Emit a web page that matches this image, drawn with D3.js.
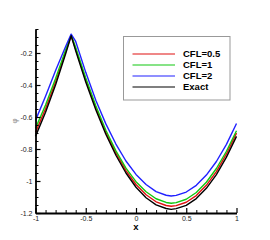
<!DOCTYPE html>
<html>
<head>
<meta charset="utf-8">
<script src="https://cdn.jsdelivr.net/npm/d3@7"></script>
<style>
html,body{margin:0;padding:0;background:#fff;}
svg{display:block;font-family:"Liberation Sans",Arial,sans-serif;}
</style>
</head>
<body>
<svg id="chart" width="270" height="240"></svg>
<script>
// ---- data ----
const xs     = [-1, -0.9, -0.8, -0.7, -0.645, -0.6, -0.5, -0.4, -0.3, -0.2, -0.1, 0, 0.1, 0.2, 0.3, 0.35, 0.4, 0.5, 0.6, 0.7, 0.8, 0.9, 1];
const cfl05  = [-0.696, -0.548, -0.379, -0.192, -0.092, -0.176, -0.369, -0.543, -0.696, -0.826, -0.935, -1.022, -1.086, -1.130, -1.153, -1.158, -1.154, -1.133, -1.091, -1.027, -0.941, -0.831, -0.701];
const cfl1   = [-0.671, -0.525, -0.359, -0.181, -0.087, -0.166, -0.356, -0.530, -0.683, -0.812, -0.920, -1.004, -1.067, -1.111, -1.134, -1.139, -1.135, -1.114, -1.072, -1.008, -0.922, -0.814, -0.686];
const cfl2   = [-0.621, -0.470, -0.310, -0.160, -0.082, -0.128, -0.321, -0.495, -0.643, -0.769, -0.875, -0.959, -1.022, -1.066, -1.089, -1.094, -1.090, -1.069, -1.027, -0.963, -0.878, -0.771, -0.641];
const exact  = [-0.721, -0.570, -0.399, -0.205, -0.092, -0.186, -0.381, -0.555, -0.708, -0.839, -0.950, -1.039, -1.105, -1.149, -1.172, -1.177, -1.173, -1.152, -1.110, -1.046, -0.960, -0.851, -0.721];
const seriesNames = ["CFL=0.5", "CFL=1", "CFL=2", "Exact"];
const xTicks = [-1, -0.5, 0, 0.5, 1];
const yTicks = [-1.2, -1, -0.8, -0.6, -0.4, -0.2];
const xLabel = "x";
const yLabel = "φ";

// ---- drawing ----
const colors = ["#e01010", "#10c810", "#2020ff", "#000000"];
const svg = d3.select("#chart");
const x = d3.scaleLinear().domain([-1, 1]).range([35.5, 236.5]);
const y = d3.scaleLinear().domain([-1.2, -0.05]).range([213, 29]);

const xMinor = d3.range(-1, 1.0001, 0.1).map(v => +v.toFixed(2)).filter(v => !xTicks.some(t => Math.abs(t - v) < 1e-6));
const yMinor = d3.range(-1.2, -0.0499, 0.05).map(v => +v.toFixed(2)).filter(v => !yTicks.some(t => Math.abs(t - v) < 1e-6));

const series = [cfl05, cfl1, cfl2, exact];
const line = d3.line().x(d => x(d[0])).y(d => y(d[1])).curve(d3.curveLinear);
series.forEach((vals, i) => {
  svg.append("path")
    .datum(xs.map((xv, j) => [xv, vals[j]]))
    .attr("fill", "none")
    .attr("stroke", colors[i])
    .attr("stroke-width", 1.4)
    .attr("stroke-linejoin", "round")
    .attr("d", line);
});

// minor ticks
svg.append("g").attr("transform", "translate(0,213)")
  .call(d3.axisBottom(x).tickValues(xMinor).tickSize(-3).tickSizeOuter(0).tickFormat(""))
  .call(g => g.select(".domain").remove())
  .call(g => g.selectAll("line").attr("stroke", "#000").attr("stroke-width", 1));
svg.append("g").attr("transform", "translate(35.5,0)")
  .call(d3.axisLeft(y).tickValues(yMinor).tickSize(-3).tickSizeOuter(0).tickFormat(""))
  .call(g => g.select(".domain").remove())
  .call(g => g.selectAll("line").attr("stroke", "#000").attr("stroke-width", 1));

// major axes
const gx = svg.append("g").attr("transform", "translate(0,213)")
  .call(d3.axisBottom(x).tickValues(xTicks).tickSize(-5).tickSizeOuter(0).tickPadding(3).tickFormat(d => String(d)));
const gy = svg.append("g").attr("transform", "translate(35.5,0)")
  .call(d3.axisLeft(y).tickValues(yTicks).tickSize(-5).tickSizeOuter(0).tickPadding(3).tickFormat(d => String(d)));
[gx, gy].forEach(g => {
  g.select(".domain").attr("stroke", "#000").attr("stroke-width", 1.8);
  g.selectAll(".tick line").attr("stroke", "#000").attr("stroke-width", 1.2);
  g.selectAll(".tick text").attr("fill", "#222").attr("font-size", "7px")
    .attr("font-family", "'Liberation Sans',Arial,sans-serif");
});

// axis titles
svg.append("text").attr("x", 136).attr("y", 230).attr("text-anchor", "middle")
  .attr("font-size", "9.5px").attr("font-weight", "bold").text(xLabel);
svg.append("text").attr("transform", "translate(17,121) rotate(-90)").attr("text-anchor", "middle")
  .attr("font-size", "8px").attr("fill", "#888").text(yLabel);

// legend
const lg = svg.append("g");
lg.append("rect").attr("x", 123.5).attr("y", 36.5).attr("width", 106.5).attr("height", 63.5)
  .attr("fill", "#fff").attr("stroke", "#999").attr("stroke-width", 1);
const rowY = d3.scalePoint().domain(seriesNames).range([54, 87]);
seriesNames.forEach((name, i) => {
  lg.append("line").attr("x1", 132.5).attr("x2", 175).attr("y1", rowY(name)).attr("y2", rowY(name))
    .attr("stroke", colors[i]).attr("stroke-width", 1.2);
  lg.append("text").attr("x", 183).attr("y", rowY(name)).attr("dy", "0.35em")
    .attr("font-size", "9.5px").attr("font-weight", "bold").attr("fill", "#000").text(name);
});
</script>
</body>
</html>
